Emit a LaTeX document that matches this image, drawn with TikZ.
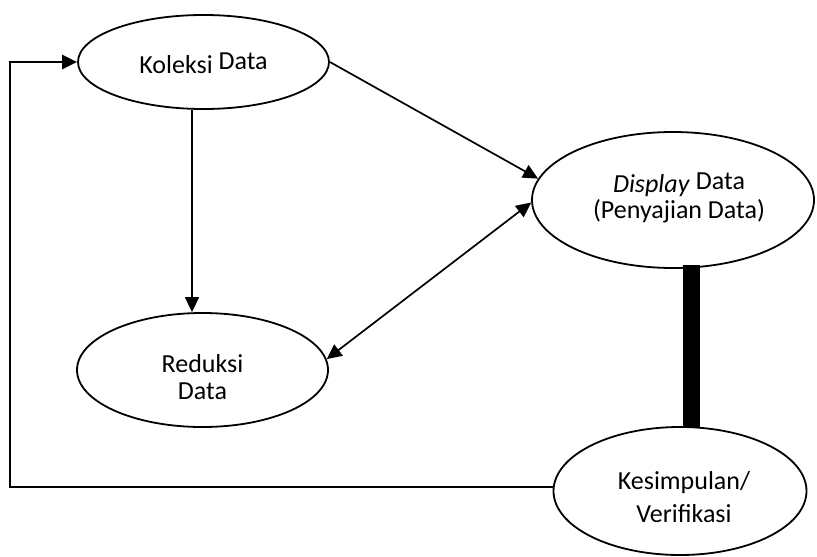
\documentclass[tikz,border=0pt]{standalone}
\usepackage{fontspec}
\setmainfont{Carlito}
\usetikzlibrary{shapes.geometric,arrows.meta}

\tikzset{
  stage/.style={draw, ellipse, line width=1.8pt, inner sep=0pt},
  txt/.style={align=center, inner sep=0pt, font=\fontsize{26}{27}\selectfont},
  arr/.style={line width=1.7pt, -{Triangle[length=15pt,width=14pt]}},
  biarr/.style={line width=1.7pt, {Triangle[length=15pt,width=14pt]}-{Triangle[length=15pt,width=14pt]}},
  feedback/.style={line width=2.4pt, -{Triangle[length=15pt,width=14pt]}},
  bar/.style={line width=17pt, shorten <=-4pt, shorten >=-2pt},
}

\begin{document}
\begin{tikzpicture}[x=1pt, y=-1pt]
  \useasboundingbox (0,0) rectangle (817,557);

  % the four stages
  \node[stage, minimum width=251pt, minimum height=94pt]  (kol) at (203.5,62) {};
  \node[stage, minimum width=251pt, minimum height=114pt] (red) at (202.5,370) {};
  \node[stage, minimum width=282pt, minimum height=136pt] (disp) at (673,200) {};
  \node[stage, minimum width=253pt, minimum height=128pt] (kes) at (680,491) {};

  % stage labels
  \node[txt] (kol-t)  at ([shift={(0,1)}]kol.center)  {Koleksi \raisebox{4pt}{Data}};
  \node[txt] (red-t)  at ([shift={(0,7)}]red.center)  {Reduksi\\Data};
  \node[txt, font=\fontsize{26}{26}\selectfont] (disp-t) at ([shift={(6,-2)}]disp.center) {\textit{Display} \raisebox{3pt}{Data}\\(Penyajian Data)};
  \node[txt, font=\fontsize{26}{33}\selectfont] (kes-t)  at ([shift={(4,6)}]kes.center)  {Kesimpulan/\\Verifikasi};

  % guide coordinates
  \coordinate (vx) at (192,0);
  \coordinate (bx) at (691,0);
  \coordinate (lx) at (10,0);

  % connectors
  \draw[arr] (kol.south -| vx) -- (red.north -| vx);
  \draw[arr] (kol.east) -- (disp.171);
  \draw[biarr] (red.5) -- (disp.181);
  \draw[bar] (bx |- disp.south) -- (bx |- kes.north);
  \draw[feedback] ([yshift=4pt]kes.west) -| (lx |- kol.west) -- (kol.west);
\end{tikzpicture}
\end{document}
